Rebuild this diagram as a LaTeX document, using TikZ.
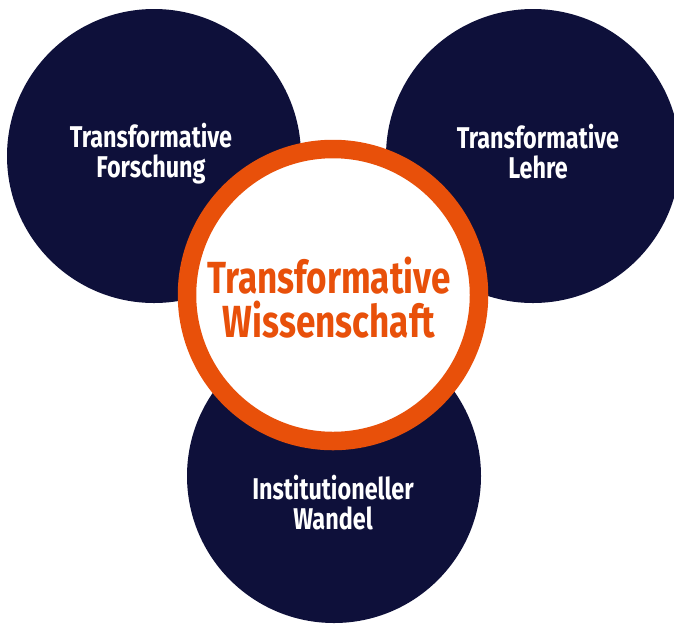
\documentclass[tikz,border=0pt]{standalone}
\usepackage{fontspec}
\newfontfamily\labelfont[FakeStretch=0.78]{Fira Sans}
\begin{document}
\begin{tikzpicture}[x=1pt, y=-1pt,
    bubble/.style={circle, fill=navy, inner sep=0pt, minimum size=294pt},
    ring/.style={circle, draw=rust, fill=white, line width=18.5pt, inner sep=0pt, minimum size=292pt},
    bubbletext/.style={text=white, align=center, inner sep=0pt, font=\labelfont\bfseries\fontsize{30}{30}\selectfont},
    ringtext/.style={text=rust, align=center, inner sep=0pt, font=\labelfont\bfseries\fontsize{45}{44}\selectfont}]
    % Define colors
    \definecolor{navy}{RGB}{14,16,58}
    \definecolor{rust}{RGB}{232,80,10}

    % Keep the page as large as the picture
    \useasboundingbox (0,0) rectangle (674,625);

    % The three dark circles
    \node[bubble] (research) at (154,156) {};
    \node[bubble] (teaching) at (533,156) {};
    \node[bubble] (change) at (334,476) {};

    % The white circle with the orange ring, on top of the others
    \node[ring] (science) at (333,295) {};

    % Texts
    \node[bubbletext] (researchtext) at (151,154) {Transformative\\Forschung};
    \node[bubbletext] (teachingtext) at (538,152) {Transformative\\Lehre};
    \node[bubbletext] (changetext) at (333,503) {Institutioneller\\Wandel};
    \node[ringtext] (sciencetext) at (329,298) {Transformative\\Wissenschaft};
\end{tikzpicture}
\end{document}
